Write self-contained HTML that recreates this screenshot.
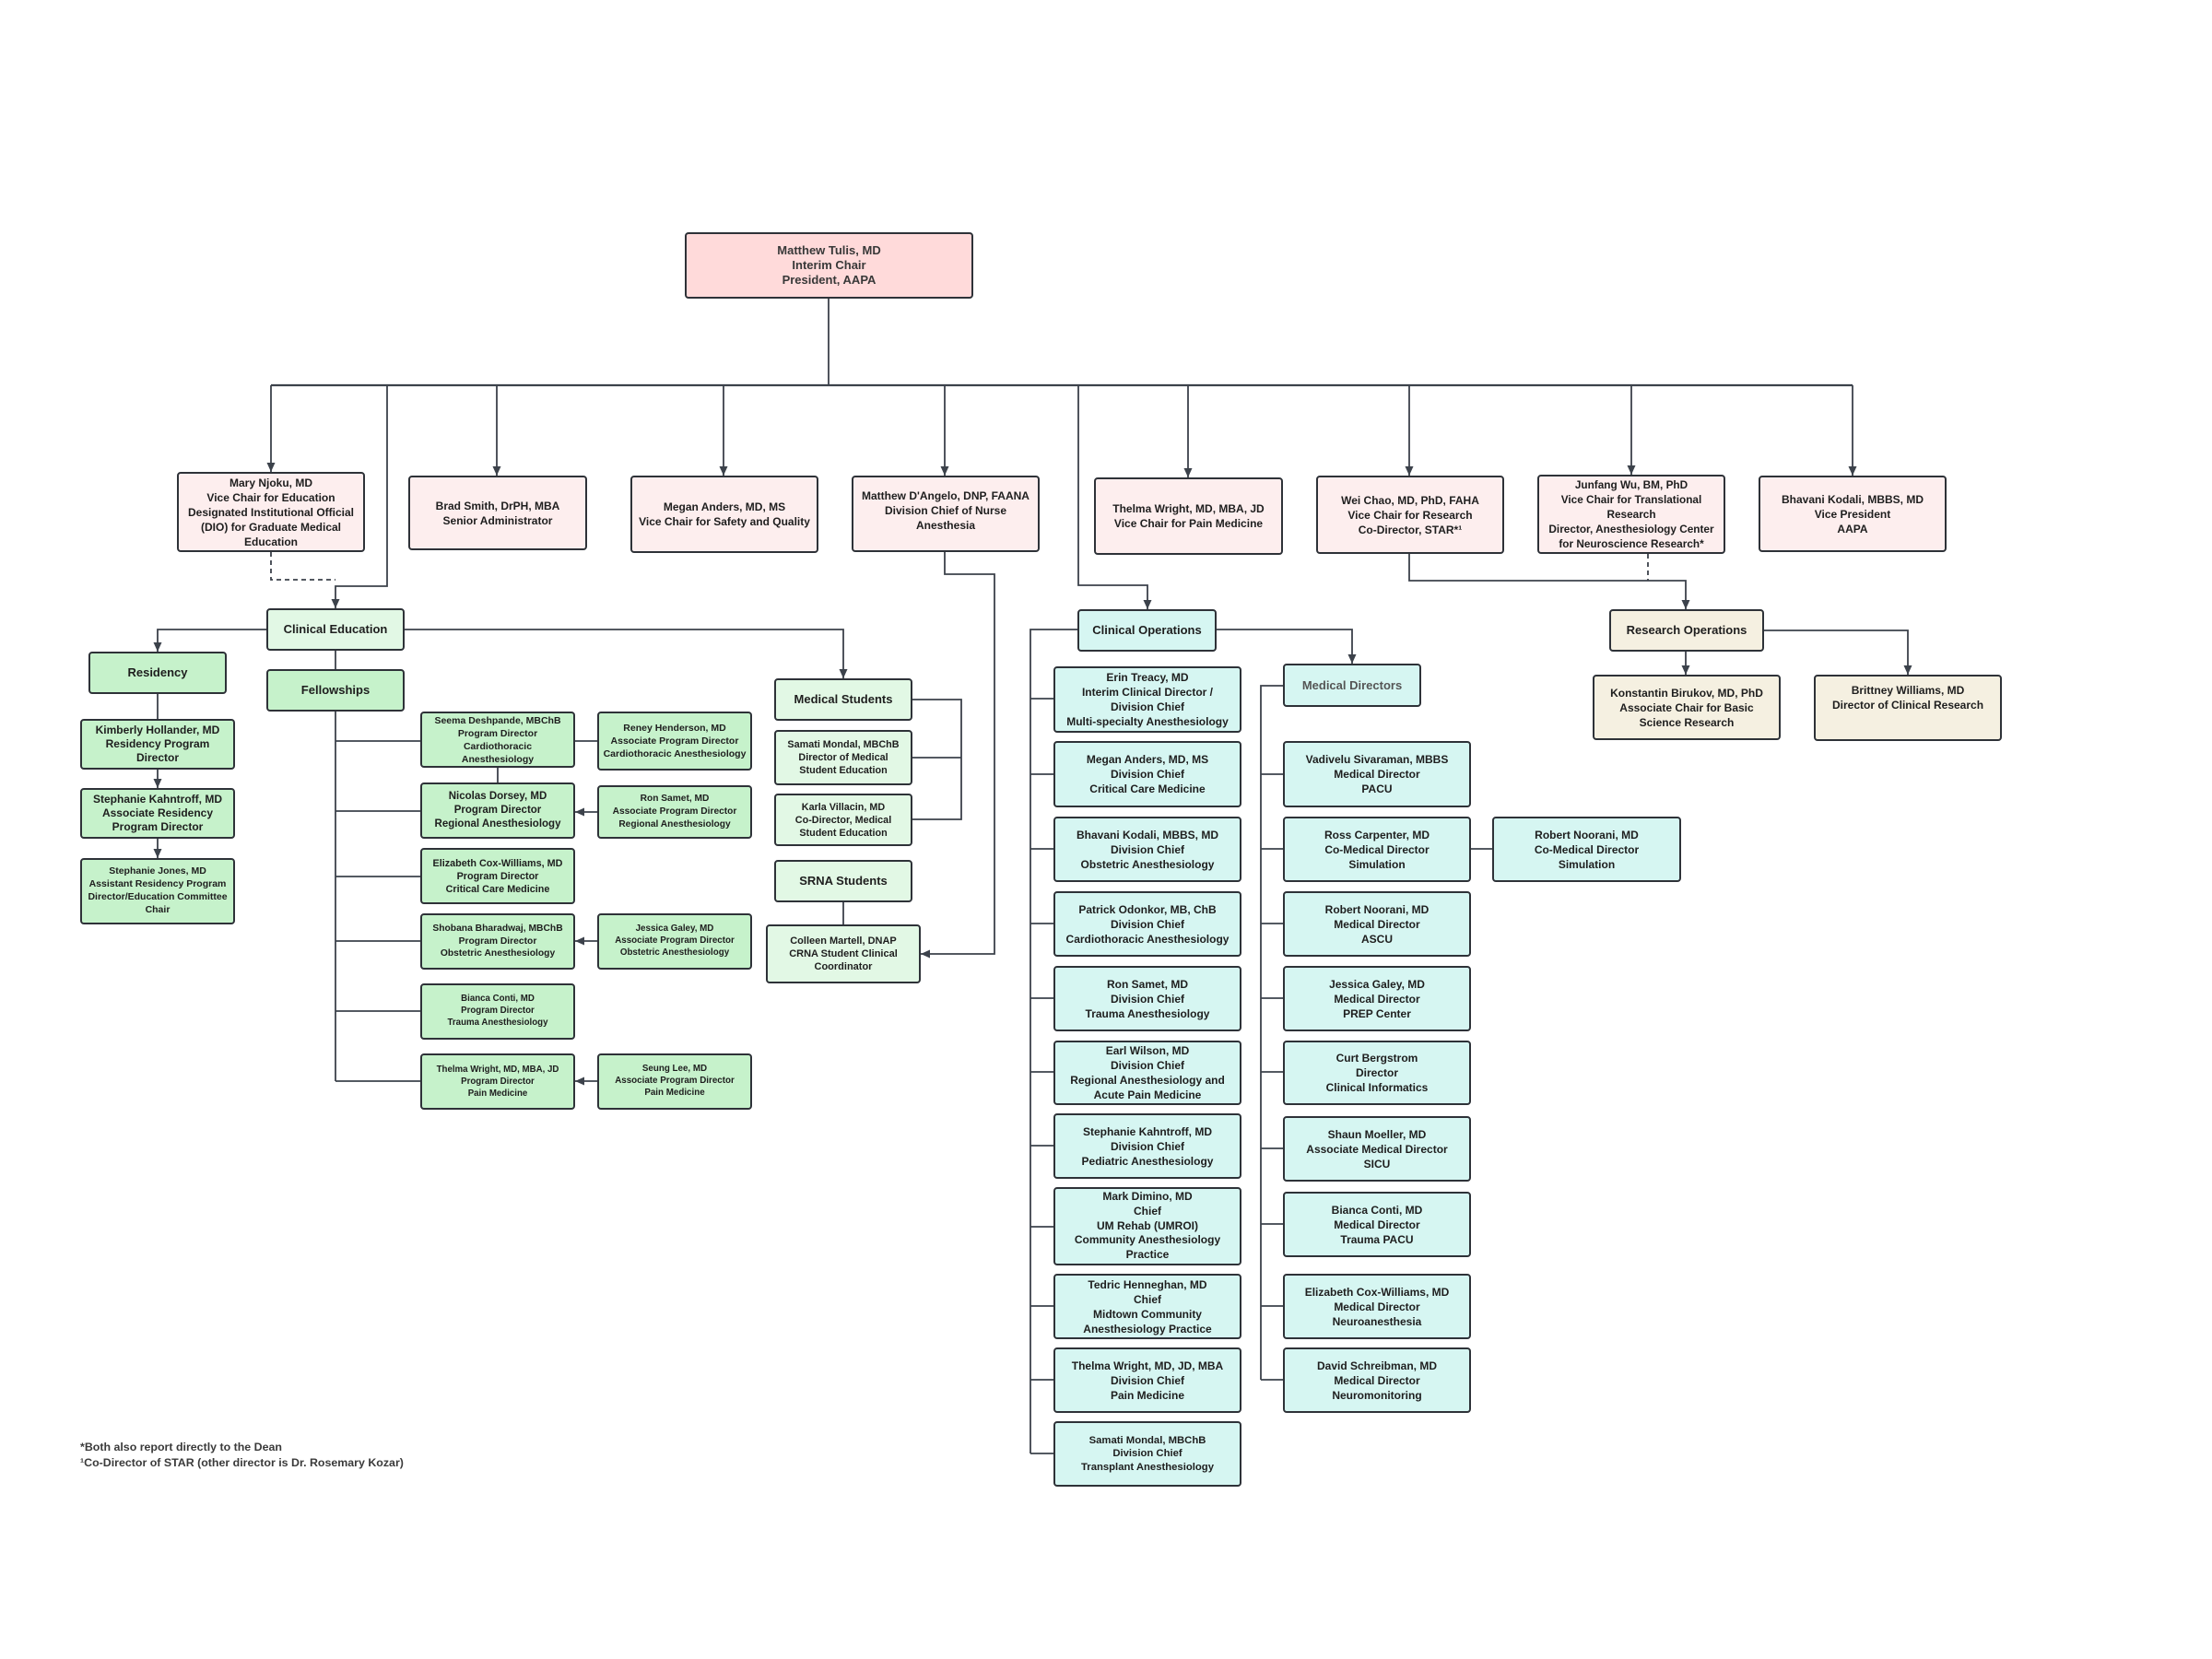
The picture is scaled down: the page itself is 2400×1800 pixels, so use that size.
<!DOCTYPE html>
<html>
<head>
<meta charset="utf-8">
<style>
html,body{margin:0;padding:0;background:#fff;}
#page{position:relative;width:2400px;height:1800px;overflow:hidden;background:#fff;font-family:"Liberation Sans",Arial,sans-serif;}
.b{position:absolute;box-sizing:border-box;border:2px solid #2e3238;border-radius:4px;display:flex;align-items:center;justify-content:center;text-align:center;font-weight:bold;white-space:nowrap;color:#1e1e1e;font-size:12px;line-height:16px;z-index:1;}
.pk{background:#fdeeee;}
.ch{background:#ffdada;color:#383838;font-size:13px;}
.g1{background:#c6f2cb;}
.g2{background:#e2f8e5;}
.t{background:#d6f6f2;}
.be{background:#f5f0e1;}
.h{font-size:13px;}
svg{position:absolute;left:0;top:0;z-index:2;}
.fn{position:absolute;left:87px;font-size:12.4px;font-weight:bold;color:#3a3a3a;line-height:16px;white-space:nowrap;}
</style>
</head>
<body>
<div id="page">

<!-- Chair -->
<div class="b ch" style="left:743px;top:252px;width:313px;height:72px;">Matthew Tulis, MD<br>Interim Chair<br>President, AAPA</div>

<!-- VP row -->
<div class="b pk" style="left:192px;top:512px;width:204px;height:87px;">Mary Njoku, MD<br>Vice Chair for Education<br>Designated Institutional Official<br>(DIO) for Graduate Medical<br>Education</div>
<div class="b pk" style="left:443px;top:516px;width:194px;height:81px;">Brad Smith, DrPH, MBA<br>Senior Administrator</div>
<div class="b pk" style="left:684px;top:516px;width:204px;height:84px;">Megan Anders, MD, MS<br>Vice Chair for Safety and Quality</div>
<div class="b pk" style="left:924px;top:516px;width:204px;height:83px;padding-bottom:8px;">Matthew D'Angelo, DNP, FAANA<br>Division Chief of Nurse<br>Anesthesia</div>
<div class="b pk" style="left:1187px;top:518px;width:205px;height:84px;">Thelma Wright, MD, MBA, JD<br>Vice Chair for Pain Medicine</div>
<div class="b pk" style="left:1428px;top:516px;width:204px;height:85px;">Wei Chao, MD, PhD, FAHA<br>Vice Chair for Research<br>Co-Director, STAR*¹</div>
<div class="b pk" style="left:1668px;top:515px;width:204px;height:86px;font-size:11.8px;">Junfang Wu, BM, PhD<br>Vice Chair for Translational<br>Research<br>Director, Anesthesiology Center<br>for Neuroscience Research*</div>
<div class="b pk" style="left:1908px;top:516px;width:204px;height:83px;">Bhavani Kodali, MBBS, MD<br>Vice President<br>AAPA</div>

<!-- Clinical Education -->
<div class="b g2 h" style="left:289px;top:660px;width:150px;height:46px;">Clinical Education</div>
<div class="b g1 h" style="left:96px;top:707px;width:150px;height:46px;">Residency</div>
<div class="b g1" style="left:87px;top:780px;width:168px;height:55px;line-height:15px;">Kimberly Hollander, MD<br>Residency Program<br>Director</div>
<div class="b g1" style="left:87px;top:855px;width:168px;height:55px;line-height:15px;">Stephanie Kahntroff, MD<br>Associate Residency<br>Program Director</div>
<div class="b g1" style="left:87px;top:931px;width:168px;height:72px;font-size:10.5px;line-height:13.8px;">Stephanie Jones, MD<br>Assistant Residency Program<br>Director/Education Committee<br>Chair</div>

<div class="b g1 h" style="left:289px;top:726px;width:150px;height:46px;">Fellowships</div>

<div class="b g1" style="left:456px;top:772px;width:168px;height:61px;font-size:10.5px;line-height:14px;">Seema Deshpande, MBChB<br>Program Director<br>Cardiothoracic<br>Anesthesiology</div>
<div class="b g1" style="left:648px;top:772px;width:168px;height:64px;font-size:10.5px;line-height:14px;">Reney Henderson, MD<br>Associate Program Director<br>Cardiothoracic Anesthesiology</div>
<div class="b g1" style="left:456px;top:849px;width:168px;height:61px;font-size:11.5px;line-height:15px;">Nicolas Dorsey, MD<br>Program Director<br>Regional Anesthesiology</div>
<div class="b g1" style="left:648px;top:852px;width:168px;height:58px;font-size:10.2px;line-height:14px;">Ron Samet, MD<br>Associate Program Director<br>Regional Anesthesiology</div>
<div class="b g1" style="left:456px;top:920px;width:168px;height:61px;font-size:10.8px;line-height:14px;">Elizabeth Cox-Williams, MD<br>Program Director<br>Critical Care Medicine</div>
<div class="b g1" style="left:456px;top:991px;width:168px;height:61px;font-size:10.3px;line-height:13.5px;">Shobana Bharadwaj, MBChB<br>Program Director<br>Obstetric Anesthesiology</div>
<div class="b g1" style="left:648px;top:991px;width:168px;height:61px;font-size:9.8px;line-height:12.7px;">Jessica Galey, MD<br>Associate Program Director<br>Obstetric Anesthesiology</div>
<div class="b g1" style="left:456px;top:1067px;width:168px;height:61px;font-size:9.7px;line-height:12.7px;">Bianca Conti, MD<br>Program Director<br>Trauma Anesthesiology</div>
<div class="b g1" style="left:456px;top:1143px;width:168px;height:61px;font-size:9.7px;line-height:13px;">Thelma Wright, MD, MBA, JD<br>Program Director<br>Pain Medicine</div>
<div class="b g1" style="left:648px;top:1143px;width:168px;height:61px;font-size:9.8px;line-height:12.7px;">Seung Lee, MD<br>Associate Program Director<br>Pain Medicine</div>

<!-- Students -->
<div class="b g2 h" style="left:840px;top:736px;width:150px;height:46px;">Medical Students</div>
<div class="b g2" style="left:840px;top:792px;width:150px;height:60px;font-size:10.8px;line-height:14px;">Samati Mondal, MBChB<br>Director of Medical<br>Student Education</div>
<div class="b g2" style="left:840px;top:861px;width:150px;height:57px;font-size:10.8px;line-height:14px;">Karla Villacin, MD<br>Co-Director, Medical<br>Student Education</div>
<div class="b g2 h" style="left:840px;top:933px;width:150px;height:46px;">SRNA Students</div>
<div class="b g2" style="left:831px;top:1003px;width:168px;height:64px;font-size:11px;line-height:14px;">Colleen Martell, DNAP<br>CRNA Student Clinical<br>Coordinator</div>

<!-- Clinical Operations -->
<div class="b t h" style="left:1169px;top:661px;width:151px;height:46px;">Clinical Operations</div>
<div class="b t" style="left:1143px;top:723px;width:204px;height:72px;">Erin Treacy, MD<br>Interim Clinical Director /<br>Division Chief<br>Multi-specialty Anesthesiology</div>
<div class="b t" style="left:1143px;top:804px;width:204px;height:72px;">Megan Anders, MD, MS<br>Division Chief<br>Critical Care Medicine</div>
<div class="b t" style="left:1143px;top:886px;width:204px;height:71px;">Bhavani Kodali, MBBS, MD<br>Division Chief<br>Obstetric Anesthesiology</div>
<div class="b t" style="left:1143px;top:967px;width:204px;height:71px;">Patrick Odonkor, MB, ChB<br>Division Chief<br>Cardiothoracic Anesthesiology</div>
<div class="b t" style="left:1143px;top:1048px;width:204px;height:71px;">Ron Samet, MD<br>Division Chief<br>Trauma Anesthesiology</div>
<div class="b t" style="left:1143px;top:1129px;width:204px;height:70px;">Earl Wilson, MD<br>Division Chief<br>Regional Anesthesiology and<br>Acute Pain Medicine</div>
<div class="b t" style="left:1143px;top:1208px;width:204px;height:71px;">Stephanie Kahntroff, MD<br>Division Chief<br>Pediatric Anesthesiology</div>
<div class="b t" style="left:1143px;top:1288px;width:204px;height:85px;line-height:15.7px;">Mark Dimino, MD<br>Chief<br>UM Rehab (UMROI)<br>Community Anesthesiology<br>Practice</div>
<div class="b t" style="left:1143px;top:1382px;width:204px;height:71px;">Tedric Henneghan, MD<br>Chief<br>Midtown Community<br>Anesthesiology Practice</div>
<div class="b t" style="left:1143px;top:1462px;width:204px;height:71px;">Thelma Wright, MD, JD, MBA<br>Division Chief<br>Pain Medicine</div>
<div class="b t" style="left:1143px;top:1542px;width:204px;height:71px;font-size:11.3px;line-height:14.4px;">Samati Mondal, MBChB<br>Division Chief<br>Transplant Anesthesiology</div>

<!-- Medical Directors -->
<div class="b t h" style="left:1392px;top:720px;width:150px;height:47px;color:#555;">Medical Directors</div>
<div class="b t" style="left:1392px;top:804px;width:204px;height:72px;">Vadivelu Sivaraman, MBBS<br>Medical Director<br>PACU</div>
<div class="b t" style="left:1392px;top:886px;width:204px;height:71px;">Ross Carpenter, MD<br>Co-Medical Director<br>Simulation</div>
<div class="b t" style="left:1392px;top:967px;width:204px;height:71px;">Robert Noorani, MD<br>Medical Director<br>ASCU</div>
<div class="b t" style="left:1392px;top:1048px;width:204px;height:71px;">Jessica Galey, MD<br>Medical Director<br>PREP Center</div>
<div class="b t" style="left:1392px;top:1129px;width:204px;height:70px;">Curt Bergstrom<br>Director<br>Clinical Informatics</div>
<div class="b t" style="left:1392px;top:1211px;width:204px;height:71px;">Shaun Moeller, MD<br>Associate Medical Director<br>SICU</div>
<div class="b t" style="left:1392px;top:1293px;width:204px;height:71px;">Bianca Conti, MD<br>Medical Director<br>Trauma PACU</div>
<div class="b t" style="left:1392px;top:1382px;width:204px;height:71px;">Elizabeth Cox-Williams, MD<br>Medical Director<br>Neuroanesthesia</div>
<div class="b t" style="left:1392px;top:1462px;width:204px;height:71px;">David Schreibman, MD<br>Medical Director<br>Neuromonitoring</div>
<div class="b t" style="left:1619px;top:886px;width:205px;height:71px;">Robert Noorani, MD<br>Co-Medical Director<br>Simulation</div>

<!-- Research -->
<div class="b be h" style="left:1746px;top:661px;width:168px;height:46px;">Research Operations</div>
<div class="b be" style="left:1728px;top:732px;width:204px;height:71px;">Konstantin Birukov, MD, PhD<br>Associate Chair for Basic<br>Science Research</div>
<div class="b be" style="left:1968px;top:732px;width:204px;height:72px;padding-bottom:22px;">Brittney Williams, MD<br>Director of Clinical Research</div>

<!-- Footnotes -->
<div class="fn" style="top:1562px;">*Both also report directly to the Dean</div>
<div class="fn" style="top:1579px;">¹Co-Director of STAR (other director is Dr. Rosemary Kozar)</div>

<svg width="2400" height="1800" viewBox="0 0 2400 1800">
<defs>
<marker id="a" viewBox="0 0 10 10" refX="10" refY="5" markerWidth="10" markerHeight="10" markerUnits="userSpaceOnUse" orient="auto">
<path d="M0,0.5 L10,5 L0,9.5 z" fill="#3c424b"/>
</marker>
</defs>
<g fill="none" stroke="#3c424b" stroke-width="1.8">
<path d="M899 324 V418"/>
<path d="M294 418 H2010" stroke-width="2.2"/>
<path d="M294 418 V512" marker-end="url(#a)"/>
<path d="M539 418 V516" marker-end="url(#a)"/>
<path d="M785 418 V516" marker-end="url(#a)"/>
<path d="M1025 418 V516" marker-end="url(#a)"/>
<path d="M1289 418 V518" marker-end="url(#a)"/>
<path d="M1529 418 V516" marker-end="url(#a)"/>
<path d="M1770 418 V515" marker-end="url(#a)"/>
<path d="M2010 418 V516" marker-end="url(#a)"/>
<path d="M420 418 V636 H364 V660" marker-end="url(#a)"/>
<path d="M294 599 V629 H364" stroke-dasharray="5,4"/>
<path d="M1170 418 V635 H1245 V661" marker-end="url(#a)"/>
<path d="M1025 599 V623 H1079 V1035 H999" marker-end="url(#a)"/>
<path d="M1529 601 V630 H1829 V661" marker-end="url(#a)"/>
<path d="M1788 601 V630" stroke-dasharray="5,4"/>
<path d="M289 683 H171 V707" marker-end="url(#a)"/>
<path d="M439 683 H915 V736" marker-end="url(#a)"/>
<path d="M364 706 V726"/>
<path d="M171 753 V780"/>
<path d="M171 835 V855" marker-end="url(#a)"/>
<path d="M171 910 V931" marker-end="url(#a)"/>
<path d="M364 772 V1173"/>
<path d="M364 804 H456"/>
<path d="M364 880 H456"/>
<path d="M364 951 H456"/>
<path d="M364 1021 H456"/>
<path d="M364 1097 H456"/>
<path d="M364 1173 H456"/>
<path d="M624 804 H648"/>
<path d="M540 833 V849"/>
<path d="M648 881 H624" marker-end="url(#a)"/>
<path d="M648 1021 H624" marker-end="url(#a)"/>
<path d="M648 1173 H624" marker-end="url(#a)"/>
<path d="M990 759 H1043 V889 H990"/>
<path d="M990 822 H1043"/>
<path d="M915 979 V1003"/>
<path d="M1169 683 H1118 V1577"/>
<path d="M1118 758 H1143"/>
<path d="M1118 840 H1143"/>
<path d="M1118 921 H1143"/>
<path d="M1118 1002 H1143"/>
<path d="M1118 1083 H1143"/>
<path d="M1118 1163 H1143"/>
<path d="M1118 1243 H1143"/>
<path d="M1118 1331 H1143"/>
<path d="M1118 1417 H1143"/>
<path d="M1118 1497 H1143"/>
<path d="M1118 1577 H1143"/>
<path d="M1320 683 H1467 V720" marker-end="url(#a)"/>
<path d="M1392 744 H1368 V1497"/>
<path d="M1368 840 H1392"/>
<path d="M1368 921 H1392"/>
<path d="M1368 1002 H1392"/>
<path d="M1368 1083 H1392"/>
<path d="M1368 1163 H1392"/>
<path d="M1368 1246 H1392"/>
<path d="M1368 1328 H1392"/>
<path d="M1368 1417 H1392"/>
<path d="M1368 1497 H1392"/>
<path d="M1596 921 H1619"/>
<path d="M1829 707 V732" marker-end="url(#a)"/>
<path d="M1914 684 H2070 V732" marker-end="url(#a)"/>
</g>
</svg>
</div>
</body>
</html>
